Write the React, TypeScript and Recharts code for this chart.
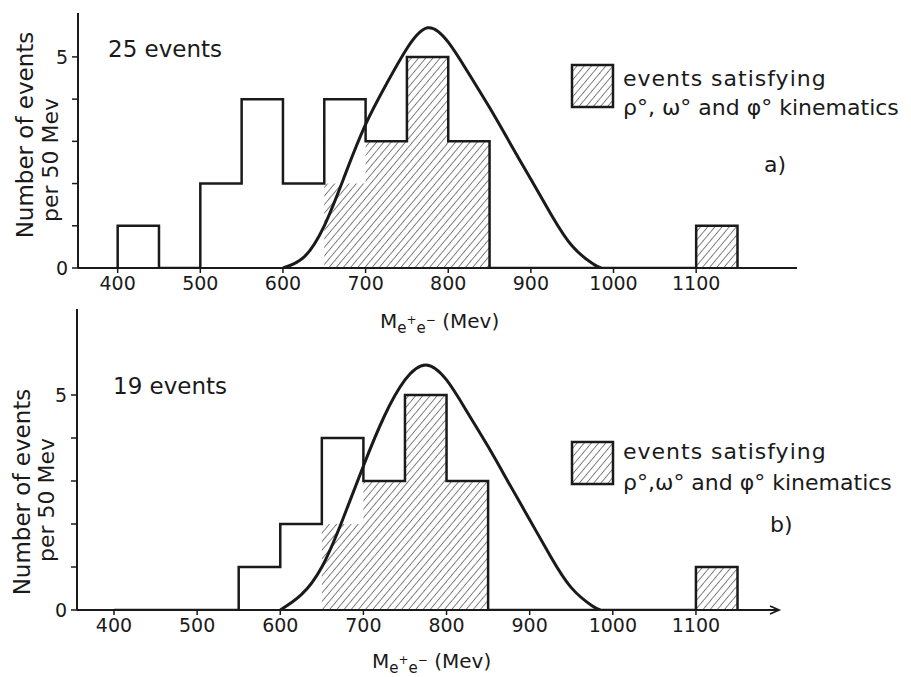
import React from "react"
import { ComposedChart, Line, Area, XAxis, YAxis } from "recharts"

// 50 MeV bins (lower edge)
const binStarts = [400, 450, 500, 550, 600, 650, 700, 750, 800, 850, 900, 950, 1000, 1050, 1100]
const binWidth = 50

// panel a) 25 events
const totalA = [1, 0, 2, 4, 2, 4, 3, 5, 3, 0, 0, 0, 0, 0, 1]
const kinematicsA = [0, 0, 0, 0, 0, 2, 3, 5, 3, 0, 0, 0, 0, 0, 1]

// panel b) 19 events
const totalB = [0, 0, 0, 1, 2, 4, 3, 5, 3, 0, 0, 0, 0, 0, 1]
const kinematicsB = [0, 0, 0, 0, 0, 2, 3, 5, 3, 0, 0, 0, 0, 0, 1]

// expected resonance curve
const curveMass = [600, 625, 650, 675, 700, 725, 750, 775, 800, 825, 850, 875, 900, 925, 950, 975, 985]
const curveA = [0, 0.25, 1.0, 2.2, 3.4, 4.35, 5.2, 5.69, 5.35, 4.6, 3.8, 2.95, 2.1, 1.25, 0.52, 0.1, 0]
const curveB = [0, 0.35, 1.0, 2.1, 3.35, 4.5, 5.35, 5.7, 5.35, 4.6, 3.8, 2.95, 2.1, 1.25, 0.52, 0.1, 0]

const xTicks = [400, 500, 600, 700, 800, 900, 1000, 1100]
const yTicks = [0, 1, 2, 3, 4, 5]

const ink = "#1a1a1a"
const font = "'DejaVu Sans', sans-serif"

// histogram -> points for a stepAfter path
function stepPoints(counts: number[]) {
  const pts = [{ x: binStarts[0], y: 0 }]
  binStarts.forEach((b, i) => pts.push({ x: b, y: counts[i] }))
  pts.push({ x: binStarts[binStarts.length - 1] + binWidth, y: 0 })
  return pts
}

const curvePoints = (vals: number[]) => curveMass.map((m, i) => ({ x: m, y: vals[i] }))

function MassLabel({ x, y }: { x: number; y: number }) {
  return (
    <text x={x} y={y} fill={ink} fontFamily={font} fontSize={20}>
      M
      <tspan dy={5} fontSize={15}>e</tspan>
      <tspan dy={-9} fontSize={12}>+</tspan>
      <tspan dy={9} fontSize={15}>e</tspan>
      <tspan dy={-9} fontSize={12}>−</tspan>
      <tspan dy={4} fontSize={20}> (Mev)</tspan>
    </text>
  )
}

interface PanelProps {
  total: number[]
  kin: number[]
  curve: number[]
  top: number
  height: number
  margin: { top: number; right: number; bottom: number; left: number }
  xDomain: [number, number]
  yMax: number
  events: string
  tag: string
  arrowAt?: [number, number]
  greek: string
  layout: {
    events: [number, number]
    box: [number, number]
    line1: number
    line2: number
    tag: [number, number]
    yl1: [number, number]
    yl2: [number, number]
    xl: [number, number]
  }
}

function Panel(p: PanelProps) {
  const L = p.layout
  return (
    <div style={{ position: "absolute", left: 0, top: p.top }}>
      <ComposedChart width={911} height={p.height} margin={p.margin}>
        <XAxis
          type="number"
          dataKey="x"
          domain={p.xDomain}
          allowDataOverflow
          ticks={xTicks}
          interval={0}
          height={30}
          tickSize={5}
          tickMargin={4}
          axisLine={{ stroke: ink, strokeWidth: 2 }}
          tickLine={{ stroke: ink, strokeWidth: 1.5 }}
          tick={{ fill: ink, fontSize: 19, fontFamily: font }}
        />
        <YAxis
          type="number"
          dataKey="y"
          domain={[0, p.yMax]}
          allowDataOverflow
          ticks={yTicks}
          interval={0}
          width={40}
          tickSize={6}
          tickMargin={4}
          tickFormatter={(v: number) => (v === 0 || v === 5 ? String(v) : "")}
          axisLine={{ stroke: ink, strokeWidth: 2 }}
          tickLine={{ stroke: ink, strokeWidth: 1.5 }}
          tick={{ fill: ink, fontSize: 19, fontFamily: font }}
        />
        <Area
          data={stepPoints(p.kin)}
          dataKey="y"
          type="stepAfter"
          fill="url(#hatch)"
          fillOpacity={1}
          stroke="none"
          isAnimationActive={false}
        />
        <Line
          data={stepPoints(p.total)}
          dataKey="y"
          type="stepAfter"
          stroke={ink}
          strokeWidth={2.5}
          dot={false}
          isAnimationActive={false}
        />
        <Line
          data={curvePoints(p.curve)}
          dataKey="y"
          type="natural"
          stroke={ink}
          strokeWidth={3}
          dot={false}
          isAnimationActive={false}
        />
        {p.arrowAt && (
          <path
            d={`M${p.arrowAt[0] - 9},${p.arrowAt[1] - 4} L${p.arrowAt[0]},${p.arrowAt[1]} L${p.arrowAt[0] - 9},${p.arrowAt[1] + 4}`}
            fill="none"
            stroke={ink}
            strokeWidth={1.8}
          />
        )}
        <text x={L.events[0]} y={L.events[1]} fill={ink} fontFamily={font} fontSize={23}>
          {p.events}
        </text>
        <rect x={L.box[0]} y={L.box[1]} width={41} height={42} fill="url(#hatch)" stroke={ink} strokeWidth={2.5} />
        <text x={623} y={L.line1} fill={ink} fontFamily={font} fontSize={22} letterSpacing={1}>
          events satisfying
        </text>
        <text x={623} y={L.line2} fill={ink} fontFamily={font} fontSize={22}>
          {p.greek}
        </text>
        <text x={L.tag[0]} y={L.tag[1]} fill={ink} fontFamily={font} fontSize={22}>
          {p.tag}
        </text>
        <text
          x={L.yl1[0]}
          y={L.yl1[1]}
          transform={`rotate(-90 ${L.yl1[0]} ${L.yl1[1]})`}
          textAnchor="middle"
          dominantBaseline="central"
          fill={ink}
          fontFamily={font}
          fontSize={23}
        >
          Number of events
        </text>
        <text
          x={L.yl2[0]}
          y={L.yl2[1]}
          transform={`rotate(-90 ${L.yl2[0]} ${L.yl2[1]})`}
          textAnchor="middle"
          dominantBaseline="central"
          fill={ink}
          fontFamily={font}
          fontSize={22}
        >
          per 50 Mev
        </text>
        <MassLabel x={L.xl[0]} y={L.xl[1]} />
      </ComposedChart>
    </div>
  )
}

export default function App() {
  return (
    <div style={{ position: "absolute", left: 0, top: 0, width: 911, height: 677, background: "#fff", overflow: "hidden" }}>
      <svg width={0} height={0} style={{ position: "absolute" }}>
        <defs>
          <pattern id="hatch" width={5.5} height={5.5} patternUnits="userSpaceOnUse" patternTransform="rotate(40)">
            <line x1={0} y1={0} x2={0} y2={5.5} stroke={ink} strokeWidth={1.1} />
          </pattern>
        </defs>
      </svg>
      <Panel
        total={totalA}
        kin={kinematicsA}
        curve={curveA}
        top={0}
        height={345}
        margin={{ top: 13, right: 114, bottom: 47, left: 38 }}
        xDomain={[352, 1222]}
        yMax={6.04}
        events="25 events"
        tag="a)"
        greek="ρ°, ω° and φ° kinematics"
        layout={{
          events: [108, 57],
          box: [572, 65],
          line1: 86,
          line2: 115,
          tag: [764, 172],
          yl1: [25, 135],
          yl2: [50, 160],
          xl: [380, 328],
        }}
      />
      <Panel
        total={totalB}
        kin={kinematicsB}
        curve={curveB}
        top={300}
        height={377}
        margin={{ top: 9, right: 133, bottom: 37, left: 37 }}
        xDomain={[355.5, 1198.7]}
        yMax={7}
        events="19 events"
        tag="b)"
        arrowAt={[779, 310]}
        greek="ρ°,ω° and φ° kinematics"
        layout={{
          events: [113, 94],
          box: [572, 142],
          line1: 159,
          line2: 190,
          tag: [770, 232],
          yl1: [22, 192],
          yl2: [46, 200],
          xl: [372, 368],
        }}
      />
    </div>
  )
}
